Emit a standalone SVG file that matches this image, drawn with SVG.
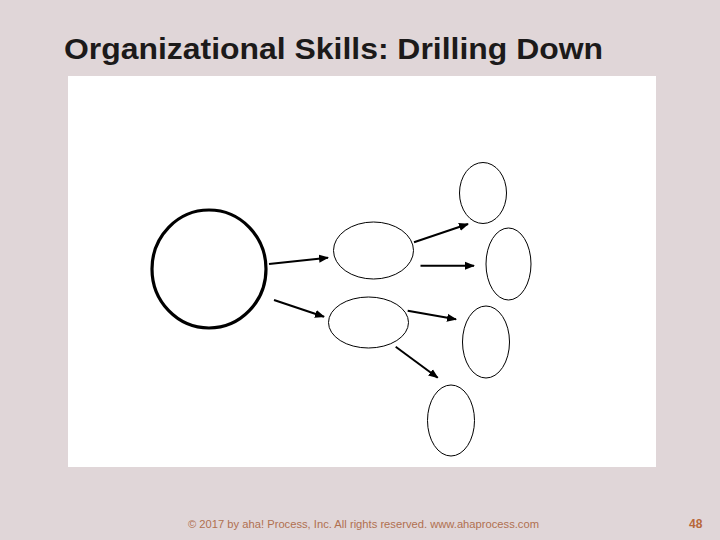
<svg xmlns="http://www.w3.org/2000/svg" width="720" height="540" viewBox="0 0 720 540">
<style>
.node{fill:none;stroke:#000;stroke-width:1}
.big{fill:none;stroke:#000;stroke-width:3.2}
.conn{stroke:#000;stroke-width:2;fill:none;marker-end:url(#ah)}
.title{font-family:"Liberation Sans",Arial,sans-serif;font-size:29px;font-weight:bold;fill:#1c1a1a}
.foot{font-family:"Liberation Sans",Arial,sans-serif;font-size:10px;fill:#b07050}
.num{font-family:"Liberation Sans",Arial,sans-serif;font-size:12px;font-weight:bold;fill:#b8683a}
</style>
<defs>
<marker id="ah" viewBox="0 0 10 10" refX="9" refY="5" markerWidth="5" markerHeight="5" orient="auto" markerUnits="strokeWidth">
<path d="M0,1 L10,5 L0,9 Z" fill="#000"/>
</marker>
</defs>
<rect width="720" height="540" fill="#e0d6d8"/>
<text class="title" x="64" y="59" textLength="539" lengthAdjust="spacingAndGlyphs">Organizational Skills: Drilling Down</text>
<rect x="68" y="76" width="588" height="391" fill="#fff"/>
<g id="n-main"><ellipse class="big" cx="209" cy="269" rx="57" ry="59"/></g>
<g id="n-a"><ellipse class="node" cx="373.5" cy="250.5" rx="40" ry="28.5"/></g>
<g id="n-b"><ellipse class="node" cx="368.5" cy="322.5" rx="40" ry="25.5"/></g>
<g id="n-e1"><ellipse class="node" cx="483" cy="193" rx="23.5" ry="30.5"/></g>
<g id="n-e2"><ellipse class="node" cx="508.5" cy="264" rx="22.5" ry="36"/></g>
<g id="n-e3"><ellipse class="node" cx="486" cy="342" rx="23.5" ry="36"/></g>
<g id="n-e4"><ellipse class="node" cx="451" cy="420.5" rx="23.5" ry="35.5"/></g>
<g id="connectors">
<line class="conn" x1="269" y1="264" x2="328" y2="257.7"/>
<line class="conn" x1="274" y1="300" x2="324" y2="316.7"/>
<line class="conn" x1="414" y1="242.3" x2="468" y2="224"/>
<line class="conn" x1="420.5" y1="265.7" x2="474" y2="265.7"/>
<line class="conn" x1="407.7" y1="310.7" x2="456" y2="319.3"/>
<line class="conn" x1="395.7" y1="346.7" x2="437.7" y2="377.7"/>
</g>
<text class="foot" x="188" y="528" textLength="351" lengthAdjust="spacingAndGlyphs">© 2017 by aha! Process, Inc. All rights reserved. www.ahaprocess.com</text>
<text class="num" x="689" y="528">48</text>
</svg>
